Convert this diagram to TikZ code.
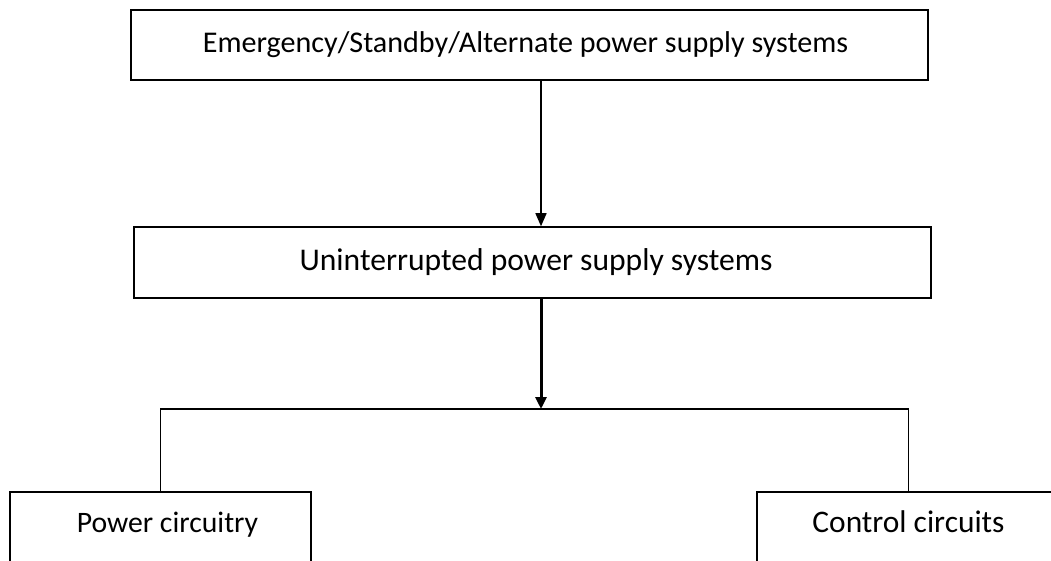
\documentclass[tikz,border=0pt]{standalone}
\usepackage{fontspec}
\setmainfont{Carlito}
\usetikzlibrary{arrows.meta}
\begin{document}
\begin{tikzpicture}[x=1pt,y=-1pt,
  box/.style={draw=black, line width=1.5pt, rectangle, inner sep=0pt, font=\fontsize{29.4}{35}\selectfont},
  lowbox/.style={box, anchor=north, inner ysep=0pt, text height=41pt, text depth=110pt},
  conn/.style={draw=black, line width=1.4pt},
  arr/.style={conn, -{Triangle[length=13pt,width=11pt]}},
  thickarr/.style={draw=black, line width=3pt, -{Triangle[length=12pt,width=11pt]}}]
\useasboundingbox (0,0) rectangle (1051,561);
\clip (0,0) rectangle (1051,561);
\fill[white] (0,0) rectangle (1051,561);
\node[box, minimum width=797pt, minimum height=70pt, font=\fontsize{30.1}{36}\selectfont] (top) at (529.5,45) {\hspace*{-8pt}Emergency/Standby/Alternate power supply systems};
\node[box, minimum width=797pt, minimum height=71pt, font=\fontsize{31.6}{38}\selectfont] (mid) at (532.5,262.5) {\hspace*{7pt}Uninterrupted power supply systems};
\node[lowbox, minimum width=301pt, font=\fontsize{29.7}{36}\selectfont] (left) at (160.5,491) {\hspace*{14pt}Power circuitry};
\node[lowbox, minimum width=303pt, font=\fontsize{31.4}{38}\selectfont] (right) at (908.5,491) {Control circuits};
\coordinate (split) at (541,409);
\draw[arr] (top.south -| split) -- (mid.north -| split);
\draw[thickarr] (mid.south -| split) -- (split);
\draw[conn] (split) -| (left.north);
\draw[conn] (split) -| (right.north);
\end{tikzpicture}
\end{document}
